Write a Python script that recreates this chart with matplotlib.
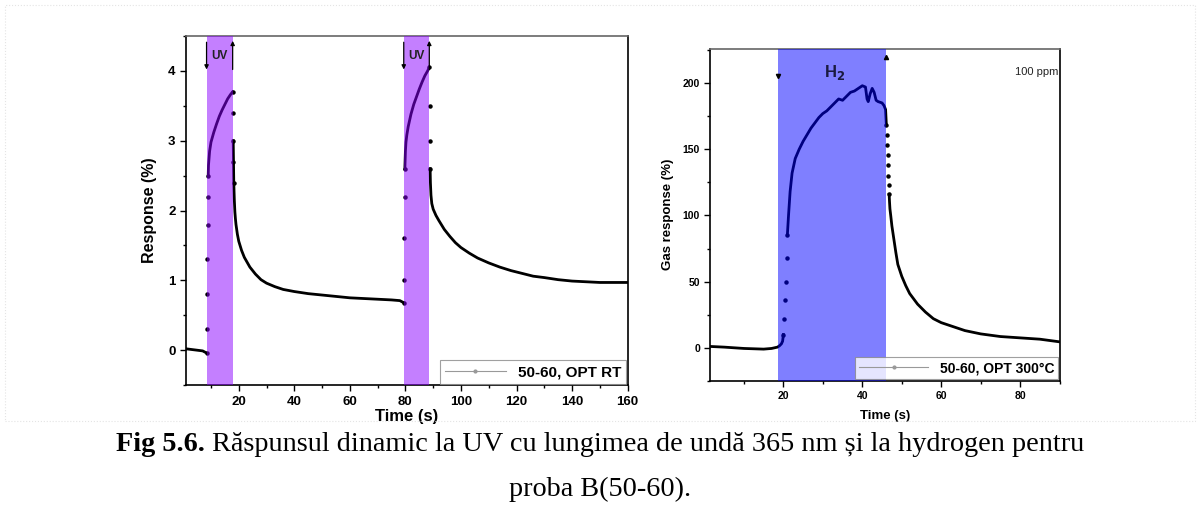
"""
Fig 5.6 - dynamic response to UV (365 nm) and to hydrogen, sample B(50-60)
"""
import numpy as np
import matplotlib
matplotlib.use('Agg')
import matplotlib.pyplot as plt
from matplotlib.patches import Rectangle
from matplotlib.ticker import MultipleLocator

plt.rcParams['font.family'] = ['Liberation Sans', 'DejaVu Sans']

# --- UV response at room temperature (left panel) ---
t_uv = [1, 3, 5, 7, 8.4,
        8.5, 8.6, 8.7, 8.8, 8.9, 9.0, 9.1, 9.3, 9.5, 10, 11, 12, 13, 14, 15, 16, 17, 17.8,
        17.9, 18.0, 18.1, 18.2, 18.4, 18.6, 18.8, 19, 19.5, 20, 21, 22, 24, 26, 28, 30,
        33, 36, 40, 45, 50, 55, 60, 65, 70, 75, 78, 79.4,
        79.5, 79.6, 79.7, 79.8, 80, 80.2, 80.5, 81, 82, 83, 84, 85, 86, 87, 88, 88.6,
        88.7, 88.8, 88.9, 89, 89.2, 89.5, 90, 91, 92, 94, 96, 98, 100, 103, 106, 110,
        114, 118, 122, 126, 130, 135, 140, 145, 150, 155, 160]
r_uv = [0.02, 0.01, 0.0, -0.01, -0.04,
        0.3, 0.8, 1.3, 1.8, 2.2, 2.5, 2.65, 2.75, 2.85, 2.98, 3.12, 3.24, 3.35, 3.44, 3.52, 3.6, 3.66, 3.7,
        3.4, 3.0, 2.7, 2.4, 2.15, 1.98, 1.88, 1.8, 1.66, 1.56, 1.43, 1.33, 1.19, 1.09, 1.01, 0.96,
        0.91, 0.87, 0.84, 0.81, 0.79, 0.77, 0.75, 0.74, 0.73, 0.72, 0.71, 0.68,
        1.0, 1.6, 2.2, 2.6, 2.85, 2.98, 3.08, 3.2, 3.38, 3.52, 3.63, 3.74, 3.84, 3.93, 4.0, 4.05,
        3.5, 3.0, 2.6, 2.4, 2.22, 2.1, 2.02, 1.93, 1.86, 1.73, 1.63, 1.54, 1.47, 1.39, 1.32, 1.25,
        1.19, 1.14, 1.1, 1.06, 1.04, 1.01, 0.99, 0.98, 0.97, 0.97, 0.97]
uv_on = [8.4, 79.4]
uv_off = [17.8, 88.6]

# --- H2 response at 300 C (right panel) ---
t_h2 = [1.5, 5, 10, 15, 17, 18.5, 19, 19.5, 19.8,
        20, 20.2, 20.4, 20.6, 20.8, 21, 21.3, 21.7, 22.2, 23, 24, 25, 26, 27, 28, 29, 30, 31, 32, 33,
        34, 35, 36, 37, 38, 39, 40, 40.8, 41.2, 41.5, 42, 42.5, 43, 43.5, 44, 45, 45.5, 45.9,
        46.0, 46.1, 46.2, 46.3, 46.4, 46.5, 46.6, 46.7, 46.8, 46.9, 47.0, 47.2, 47.5, 48, 48.5,
        49, 50, 51, 52, 53, 54, 56, 58, 60, 63, 66, 70, 75, 80, 85, 90]
r_h2 = [1.0, 0.5, -0.5, -1.0, -0.5, 0.5, 1.5, 3.0, 5.0,
        10, 22, 36, 50, 68, 85, 100, 118, 132, 143, 150, 156, 161, 166, 170, 174, 177, 179, 182, 185,
        188, 187, 190, 193, 194, 196, 198, 197, 188, 186, 192, 196, 193, 187, 186, 185, 183, 180,
        174, 168, 161, 153, 146, 138, 130, 123, 116, 110, 105, 100, 92, 82, 72,
        63, 54, 47, 41, 37, 33, 27, 22, 19, 16, 13, 10.5, 8.5, 7.5, 6.5, 4.5]
h2_on = 18.6
h2_off = 46.1


def draw_curve(ax, t, r, steep):
    t = np.asarray(t, float)
    r = np.asarray(r, float)
    slope = np.abs(np.diff(r) / np.diff(t))
    fast = slope > steep
    # smooth parts: thick black line
    rs = r.copy()
    for i in range(len(fast)):
        if fast[i] and i + 1 < len(fast) and fast[i + 1]:
            rs[i + 1] = np.nan
    ax.plot(t, rs, color='k', lw=2.0, zorder=2)
    # fast transitions: sparse dots
    idx = np.unique(np.concatenate([np.where(fast)[0], np.where(fast)[0] + 1]))
    ax.plot(t[idx], r[idx], linestyle='none', marker='o', ms=2.2, color='k', zorder=2)


fig = plt.figure(figsize=(12, 5.29), dpi=100)

# faint frame around the chart image
fig.patches.append(Rectangle((0.004, 0.205), 0.992, 0.785, transform=fig.transFigure,
                             fill=False, edgecolor='#e4e4e4', lw=0.8, linestyle=':'))

# ---------------- left panel ----------------
ax1 = fig.add_axes([0.155, 0.272, 0.368, 0.660])
draw_curve(ax1, t_uv, r_uv, 3.0)
for a, b in zip(uv_on, uv_off):
    ax1.axvspan(a, b, color='#8a00ff', alpha=0.5, lw=0, zorder=3)
    ax1.annotate('', xy=(a, 3.98), xytext=(a, 4.45),
                 arrowprops=dict(arrowstyle='-|>', color='k', lw=0.9, mutation_scale=6), zorder=4)
    ax1.annotate('', xy=(b, 4.47), xytext=(b, 3.98),
                 arrowprops=dict(arrowstyle='-|>', color='k', lw=0.9, mutation_scale=6), zorder=4)
    ax1.text((a + b) / 2, 4.22, 'UV', ha='center', va='center', fontsize=8.5,
             fontweight='bold', color='#222222', zorder=5)
ax1.plot([], [], color='#999999', lw=0.8, marker='o', ms=2, label='50-60, OPT RT')
ax1.set_xlim(1, 160)
ax1.set_ylim(-0.5, 4.5)
ax1.xaxis.set_minor_locator(MultipleLocator(10))
ax1.yaxis.set_major_locator(MultipleLocator(1))
ax1.yaxis.set_minor_locator(MultipleLocator(0.5))
ax1.set_xticks([20, 40, 60, 80, 100, 120, 140, 160])
ax1.set_xlabel('Time (s)', fontsize=12, fontweight='bold', labelpad=1)
ax1.set_ylabel('Response (%)', fontsize=11.5, fontweight='bold', labelpad=8)
leg1 = ax1.legend(loc='lower right', prop={'weight': 'bold', 'size': 11},
                  frameon=True, fancybox=False, borderaxespad=0.1, handlelength=4,
                  borderpad=0.3)
leg1.get_frame().set_edgecolor('#888888')
leg1.get_frame().set_linewidth(0.8)

# ---------------- right panel ----------------
ax2 = fig.add_axes([0.592, 0.280, 0.291, 0.628])
draw_curve(ax2, t_h2, r_h2, 60.0)
ax2.axvspan(h2_on, h2_off, color='#0000ff', alpha=0.5, lw=0, zorder=3)
ax2.plot([h2_on], [205], marker='v', ms=3, color='k', zorder=4)
ax2.plot([h2_off], [220], marker='^', ms=3, color='k', zorder=4)
ax2.text(33, 208, 'H$_\\mathbf{2}$', ha='center', va='center', fontsize=12,
         fontweight='bold', color='#1a1a40', zorder=5)
ax2.text(89.6, 208, '100 ppm', ha='right', va='center', fontsize=8, color='#222222', zorder=5)
ax2.plot([], [], color='#999999', lw=0.8, marker='o', ms=2, label='50-60, OPT 300°C')
ax2.set_xlim(1.5, 90)
ax2.set_ylim(-25, 226)
ax2.set_xticks([20, 40, 60, 80])
ax2.xaxis.set_minor_locator(MultipleLocator(10))
ax2.yaxis.set_major_locator(MultipleLocator(50))
ax2.yaxis.set_minor_locator(MultipleLocator(25))
ax2.set_xlabel('Time (s)', fontsize=9.5, fontweight='bold', labelpad=6)
ax2.set_ylabel('Gas response (%)', fontsize=9.5, fontweight='bold', labelpad=6)
leg2 = ax2.legend(loc='lower right', prop={'weight': 'bold', 'size': 10},
                  frameon=True, fancybox=False, borderaxespad=0.1, handlelength=5,
                  borderpad=0.3)
leg2.get_frame().set_edgecolor('#888888')
leg2.get_frame().set_linewidth(0.8)

for ax, fs in [(ax1, 9.5), (ax2, 7.5)]:
    ax.tick_params(which='both', direction='out', top=False, right=False, labelsize=fs, width=1)
    ax.tick_params(which='major', length=4)
    ax.tick_params(which='minor', length=2)
    for lab in ax.get_xticklabels() + ax.get_yticklabels():
        lab.set_fontweight('bold')
    for sp in ax.spines.values():
        sp.set_linewidth(1.2)
    ax.spines['top'].set_color('#666666')

# ---------------- caption ----------------
cap_font = ['Liberation Serif', 'DejaVu Serif']
cap_size = 20.3
bold_part = 'Fig 5.6.'
rest_part = ' Răspunsul dinamic la UV cu lungimea de undă 365 nm și la hydrogen pentru'
fig.canvas.draw()
r = fig.canvas.get_renderer()
tb = fig.text(0, 0, bold_part, fontsize=cap_size, fontweight='bold', family=cap_font)
tr = fig.text(0, 0, rest_part, fontsize=cap_size, family=cap_font)
wb = tb.get_window_extent(r).width / fig.bbox.width
wr = tr.get_window_extent(r).width / fig.bbox.width
x0 = 0.5 - (wb + wr) / 2
tb.set_position((x0, 0.148))
tr.set_position((x0 + wb, 0.148))
fig.text(0.5, 0.062, 'proba B(50-60).', fontsize=cap_size, family=cap_font, ha='center')

fig.savefig('out.png', dpi=100)
